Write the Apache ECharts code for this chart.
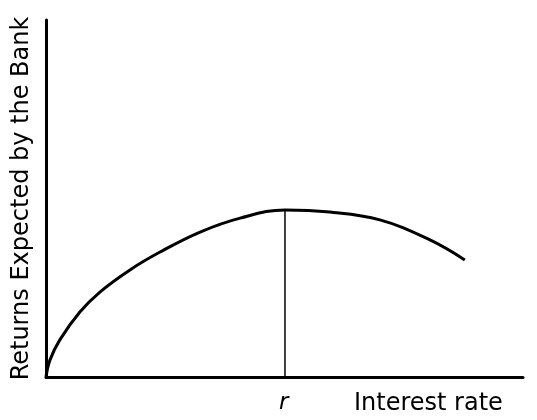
<!DOCTYPE html>
<html><head><meta charset="utf-8">
<script src="https://cdn.jsdelivr.net/npm/echarts@6/dist/echarts.min.js"></script>
<style>html,body{margin:0;background:#fff}#c{width:537px;height:420px}</style>
</head><body><div id="c"></div>
<script>
// curve (x: interest rate, y: expected return)
var curveX = [0, 0.84, 2.9, 7.1, 11.3, 17.6, 23.9, 32.3, 40.7, 50.1, 59.5, 70.0, 80.5, 87.8];
var curveY = [0, 4.8, 10.4, 18.2, 23.8, 30.0, 35.0, 40.6, 44.5, 46.8, 46.2, 44.0, 38.4, 32.8];
var peakX = 50.1, peakY = 46.8;

var curve = curveX.map(function(x, i){ return [x, curveY[i]]; });
var chart = echarts.init(document.getElementById('c'));
chart.setOption({
  animation: false,
  grid: {left: 46, right: 14, top: 20, bottom: 43},
  xAxis: {type: 'value', min: 0, max: 100, axisLine: {lineStyle: {color: '#000', width: 3}},
    axisTick: {show: false}, axisLabel: {show: false}, splitLine: {show: false}},
  yAxis: {type: 'value', min: 0, max: 100, axisLine: {show: true, lineStyle: {color: '#000', width: 3}},
    axisTick: {show: false}, axisLabel: {show: false}, splitLine: {show: false},
    name: 'Returns Expected by the Bank', nameLocation: 'middle', nameGap: 12,
    nameTextStyle: {fontFamily: 'DejaVu Sans', fontSize: 24, color: '#000'}},
  series: [
    {type: 'line', data: curve, smooth: 0.4, symbol: 'none', lineStyle: {color: '#000', width: 3}},
    {type: 'line', data: [[peakX, 0], [peakX, peakY]], symbol: 'none', lineStyle: {color: '#000', width: 1.5}}
  ],
  graphic: [
    {type: 'text', left: 279, top: 392, style: {text: 'r', font: 'italic 23px DejaVu Sans', fill: '#000'}},
    {type: 'text', left: 354, top: 392, style: {text: 'Interest rate', font: '24px DejaVu Sans', fill: '#000'}}
  ]
});
</script></body></html>
